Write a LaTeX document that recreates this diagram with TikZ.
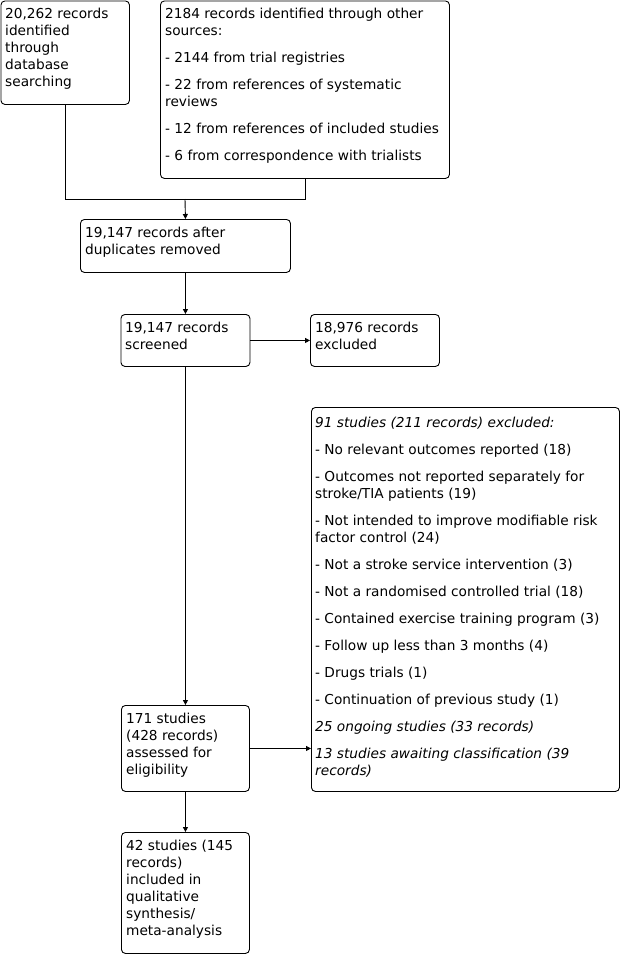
\documentclass[tikz,border=0pt]{standalone}
\usepackage{fontspec}
\setmainfont{DejaVu Sans}
\usetikzlibrary{arrows.meta}
\tikzset{
  box/.style={draw=black, line width=0.9pt, rounded corners=4pt, anchor=north west, inner sep=0pt},
  txt/.style={anchor=north west, align=left, inner sep=0pt, font=\fontsize{13.7}{17}\selectfont},
  conn/.style={draw=black, line width=0.9pt},
  arr/.style={conn, -{Triangle[length=5pt,width=5pt]}},
}
\newcommand{\gapline}{\\[10pt]}
\begin{document}
\begin{tikzpicture}[x=1pt,y=-1pt]
\useasboundingbox (0,0) rectangle (621,954);
% boxes
\node[box, minimum width=128.5pt, minimum height=103.5pt] (A) at (0.5,0.5) {};
\node[box, minimum width=289pt, minimum height=177.5pt] (B) at (160,0.5) {};
\node[box, minimum width=210pt, minimum height=53pt] (C) at (80,219) {};
\node[box, minimum width=129pt, minimum height=52pt] (D) at (120.5,314) {};
\node[box, minimum width=129pt, minimum height=52pt] (E) at (310,314) {};
\node[box, minimum width=308pt, minimum height=384pt] (F) at (311,407) {};
\node[box, minimum width=128pt, minimum height=86pt] (G) at (121,705) {};
\node[box, minimum width=128pt, minimum height=121pt] (H) at (121,832) {};
% texts
\node[txt] (tA) at (5,8) {20,262 records\\identified\\through\\database\\searching};
\node[txt] (tB) at (165,8) {2184 records identified through other\\sources:\gapline
- 2144 from trial registries\gapline
- 22 from references of systematic\\reviews\gapline
- 12 from references of included studies\gapline
- 6 from correspondence with trialists};
\node[txt] (tC) at (85,227) {19,147 records after\\duplicates removed};
\node[txt] (tD) at (125,322) {19,147 records\\screened};
\node[txt] (tE) at (315,322) {18,976 records\\excluded};
\node[txt] (tF) at (315,416.5) {\itshape 91 studies (211 records) excluded:\gapline
- No relevant outcomes reported (18)\gapline
- Outcomes not reported separately for\\stroke/TIA patients (19)\gapline
- Not intended to improve modifiable risk\\factor control (24)\gapline
- Not a stroke service intervention (3)\gapline
- Not a randomised controlled trial (18)\gapline
- Contained exercise training program (3)\gapline
- Follow up less than 3 months (4)\gapline
- Drugs trials (1)\gapline
- Continuation of previous study (1)\gapline
\itshape 25 ongoing studies (33 records)\gapline
\itshape 13 studies awaiting classification (39\\\itshape records)};
\node[txt] (tG) at (126,713) {171 studies\\(428 records)\\assessed for\\eligibility};
\node[txt] (tH) at (126,840) {42 studies (145\\records)\\included in\\qualitative\\synthesis/\\meta-analysis};
% connectors
\coordinate (j) at (185,199);
\draw[conn] (A.south) -- (A.south |- j) -- (B.south |- j) -- (B.south);
\draw[arr] (j) -- (C.north);
\draw[arr] (C.south) -- (D.north);
\draw[arr] (D.east) -- (E.west);
\draw[arr] (D.south) -- (G.north);
\draw[arr] (G.east) -- (G.east -| F.west);
\draw[arr] (G.south) -- (H.north);
\end{tikzpicture}
\end{document}
